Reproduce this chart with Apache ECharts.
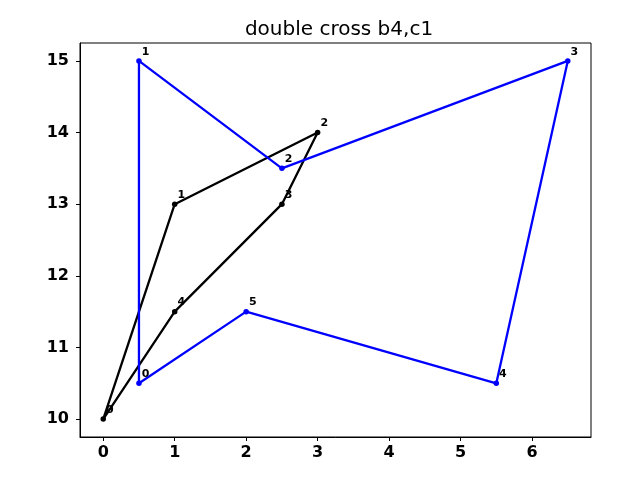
<!DOCTYPE html>
<html>
<head>
<meta charset="utf-8">
<script src="https://cdn.jsdelivr.net/npm/echarts@6/dist/echarts.min.js"></script>
<style>html,body{margin:0;padding:0;background:#fff}#c{width:640px;height:480px}</style>
</head>
<body>
<div id="c"></div>
<script>
var titleText = 'double cross b4,c1';
var blackX = [0, 1, 3, 2.5, 1];
var blackY = [10, 13, 14, 13, 11.5];
var blueX = [0.5, 0.5, 2.5, 6.5, 5.5, 2];
var blueY = [10.5, 15, 13.5, 15, 10.5, 11.5];
var xTicks = [0, 1, 2, 3, 4, 5, 6];
var yTicks = [10, 11, 12, 13, 14, 15];

function loop(xs, ys) {
  var d = [];
  for (var i = 0; i < xs.length; i++) {
    d.push({ value: [xs[i], ys[i]], label: { show: true, formatter: String(i) } });
  }
  d.push({ value: [xs[0], ys[0]], label: { show: false }, symbolSize: 0 });
  return d;
}

var font = 'DejaVu Sans';
var lbl = { position: [5.5, -12], color: '#000', fontFamily: font, fontWeight: 'bold', fontSize: 11 };

var chart = echarts.init(document.getElementById('c'), null, { renderer: 'canvas' });
chart.setOption({
  animation: false,
  backgroundColor: '#fff',
  title: {
    text: titleText, left: 334, top: 15, textAlign: 'center',
    textStyle: { fontFamily: font, fontWeight: 'normal', fontSize: 20, color: '#000' }
  },
  grid: { left: 80, right: 49, top: 43, bottom: 43, show: true, borderColor: '#000', borderWidth: 1, backgroundColor: 'transparent' },
  xAxis: {
    type: 'value', min: -0.325, max: 6.825,
    axisLine: { show: true, onZero: false, lineStyle: { color: '#000' } },
    axisTick: { show: true, inside: false, length: 4, lineStyle: { color: '#000' }, customValues: xTicks },
    axisLabel: { customValues: xTicks, margin: 8, color: '#000', fontFamily: font, fontWeight: 'bold', fontSize: 16 },
    splitLine: { show: false }
  },
  yAxis: {
    type: 'value', min: 9.75, max: 15.25,
    axisLine: { show: true, onZero: false, lineStyle: { color: '#000' } },
    axisTick: { show: true, inside: false, length: 4, lineStyle: { color: '#000' }, customValues: yTicks },
    axisLabel: { customValues: yTicks, margin: 11, color: '#000', fontFamily: font, fontWeight: 'bold', fontSize: 16 },
    splitLine: { show: false }
  },
  series: [
    {
      type: 'line', data: loop(blackX, blackY), symbol: 'circle', symbolSize: 5.5,
      lineStyle: { color: '#000', width: 2.3 }, itemStyle: { color: '#000' },
      label: lbl, z: 2
    },
    {
      type: 'line', data: loop(blueX, blueY), symbol: 'circle', symbolSize: 5.5,
      lineStyle: { color: '#0000ff', width: 2.3 }, itemStyle: { color: '#0000ff' },
      label: lbl, z: 3
    }
  ]
});
</script>
</body>
</html>
